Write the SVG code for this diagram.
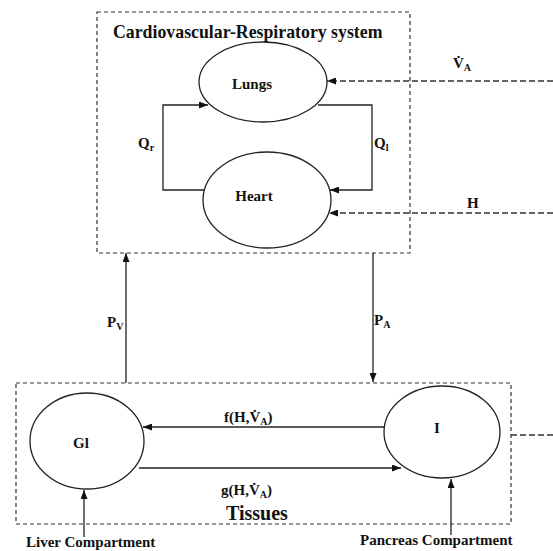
<svg xmlns="http://www.w3.org/2000/svg" width="553" height="551" viewBox="0 0 553 551">
  <style>
    .box { fill: none; stroke: #333; stroke-width: 1.2; stroke-dasharray: 4 3; }
    .node { fill: #fff; stroke: #222; stroke-width: 1.3; }
    .line { fill: none; stroke: #222; stroke-width: 1.3; }
    .dline { fill: none; stroke: #333; stroke-width: 1.3; stroke-dasharray: 6 3; }
    text { font-family: "Liberation Serif", "Times New Roman", serif; font-weight: bold; fill: #111; }
    .lbl { font-size: 15px; }
    .sub { font-size: 10px; }
    .ctr { text-anchor: middle; }
  </style>
  <defs>
    <marker id="arr" viewBox="0 0 9 7" refX="9" refY="3.5" markerWidth="9" markerHeight="7" markerUnits="userSpaceOnUse" orient="auto">
      <path d="M0,0 L9,3.5 L0,7 z" fill="#111"/>
    </marker>
  </defs>

  <rect width="553" height="551" fill="#fff"/>

  <!-- compartment boxes -->
  <g id="cardio-box">
    <rect class="box" x="97" y="12" width="313" height="241"/>
    <text x="113" y="38" font-size="17.8">Cardiovascular-Respiratory system</text>
  </g>
  <g id="tissues-box">
    <rect class="box" x="16" y="383" width="495" height="141"/>
    <text x="226" y="520" font-size="20">Tissues</text>
  </g>

  <!-- connectors -->
  <g id="connectors">
    <!-- Qr: heart to lungs (left loop) -->
    <polyline class="line" points="204,190 163,190 163,105 208,105" marker-end="url(#arr)"/>
    <!-- Ql: lungs to heart (right loop) -->
    <polyline class="line" points="318,105 372,105 372,190 330,190" marker-end="url(#arr)"/>
    <!-- external inputs -->
    <line class="dline" x1="553" y1="81" x2="327" y2="81" marker-end="url(#arr)"/>
    <line class="dline" x1="553" y1="213" x2="329" y2="213" marker-end="url(#arr)"/>
    <line class="dline" x1="511" y1="435" x2="553" y2="435"/>
    <!-- PV / PA -->
    <line class="line" x1="126" y1="383" x2="126" y2="253" marker-end="url(#arr)"/>
    <line class="line" x1="373" y1="253" x2="373" y2="382" marker-end="url(#arr)"/>
    <!-- f and g -->
    <line class="line" x1="384" y1="427" x2="143" y2="427" marker-end="url(#arr)"/>
    <line class="line" x1="139" y1="468" x2="401" y2="468" marker-end="url(#arr)"/>
    <!-- compartment inputs -->
    <line class="line" x1="84" y1="537" x2="84" y2="490" marker-end="url(#arr)"/>
    <line class="line" x1="451" y1="535" x2="451" y2="479" marker-end="url(#arr)"/>
  </g>

  <!-- connector labels (V with combining dot above = flow rate) -->
  <g id="labels">
    <text class="lbl" x="138" y="148">Q<tspan class="sub" dy="3">r</tspan></text>
    <text class="lbl" x="374" y="148">Q<tspan class="sub" dy="3">l</tspan></text>
    <text class="lbl" x="453" y="68">V̇<tspan class="sub" dy="3">A</tspan></text>
    <text class="lbl" x="467" y="208">H</text>
    <text class="lbl" x="107" y="327">P<tspan class="sub" dy="3">V</tspan></text>
    <text class="lbl" x="374" y="325">P<tspan class="sub" dy="3">A</tspan></text>
    <text class="lbl" x="224" y="422">f(H,V̇<tspan class="sub" dy="3">A</tspan><tspan dy="-3">)</tspan></text>
    <text class="lbl" x="221" y="495">g(H,V̇<tspan class="sub" dy="3">A</tspan><tspan dy="-3">)</tspan></text>
    <text class="lbl" x="26" y="547">Liver Compartment</text>
    <text class="lbl" x="360" y="545">Pancreas Compartment</text>
  </g>

  <!-- nodes -->
  <g id="lungs">
    <ellipse class="node" cx="263" cy="82" rx="64" ry="40"/>
    <text class="lbl ctr" x="252" y="89">Lungs</text>
  </g>
  <g id="heart">
    <ellipse class="node" cx="267" cy="200" rx="64" ry="48"/>
    <text class="lbl ctr" x="254" y="201">Heart</text>
  </g>
  <g id="gl">
    <ellipse class="node" cx="87" cy="441" rx="57" ry="48"/>
    <text class="lbl ctr" x="81" y="448">Gl</text>
  </g>
  <g id="insulin">
    <ellipse class="node" cx="442" cy="432" rx="58" ry="46"/>
    <text class="lbl ctr" x="437" y="433">I</text>
  </g>
</svg>
